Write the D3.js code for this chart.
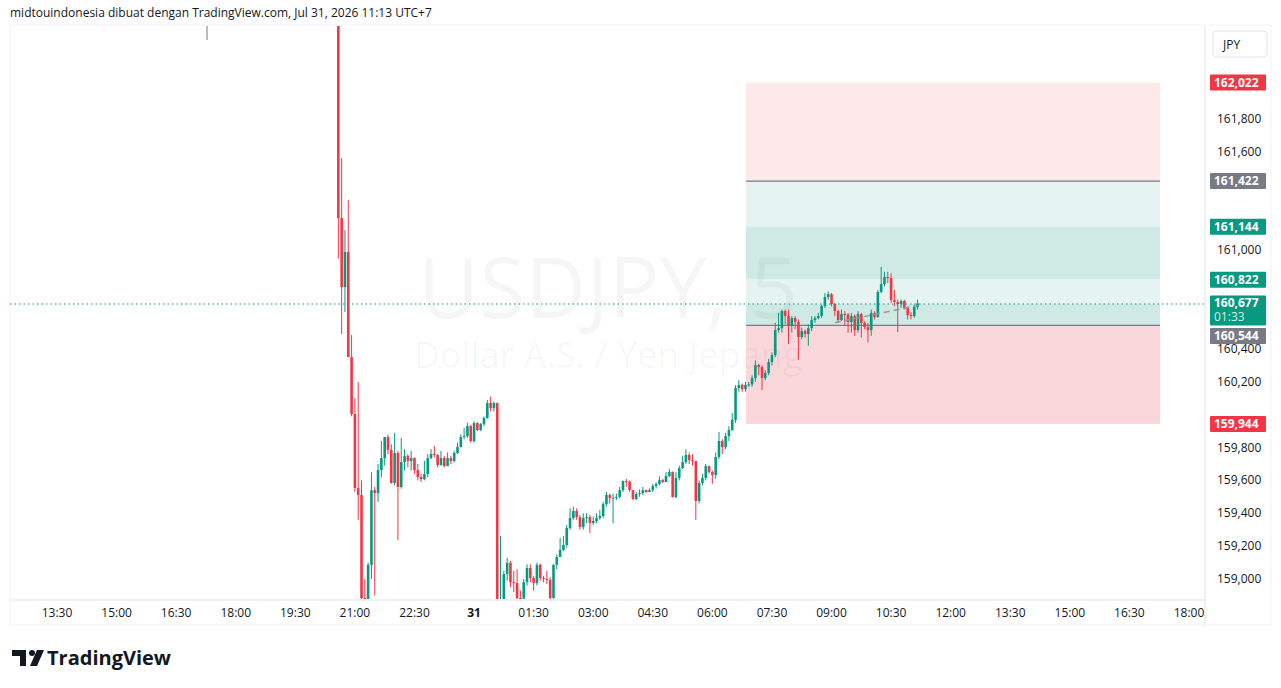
<!DOCTYPE html>
<html><head><meta charset="utf-8">
<script src="https://cdn.jsdelivr.net/npm/d3@7"></script>
<style>body{margin:0;background:#fff;font-family:"Open Sans","DejaVu Sans",sans-serif;}</style>
</head><body>
<svg id="c" width="1281" height="688"></svg>
<script>
// [close, high, low]; open = previous close. 5-minute candles starting 20:35 (Jul 30)
const startOpen = 162500;
const candles = [
[161197,162550,160950],[160777,161562,160491],[160990,161124,160625],[160351,161307,160351],[160004,160485,159990],
[159554,160101,159530],[159511,160199,159359],[158884,159600,158850],[158860,159000,158800],[159086,159100,158800],
[159541,159650,159000],[159523,159560,158900],[159663,159700,159470],[159736,159840,159620],[159864,159864,159690],
[159786,159880,159760],[159584,159820,159580],[159767,159890,159570],[159560,159780,159237],[159712,159860,159550],
[159748,159790,159660],[159718,159760,159680],[159736,159780,159660],[159663,159740,159640],[159621,159700,159600],
[159608,159640,159590],[159639,159720,159600],[159736,159760,159620],[159761,159790,159730],[159755,159810,159740],
[159694,159760,159680],[159736,159780,159690],[159687,159750,159680],[159736,159770,159690],[159718,159750,159700],
[159767,159780,159710],[159803,159830,159760],[159864,159880,159800],[159870,159920,159850],[159931,159950,159860],
[159840,159940,159830],[159949,159960,159830],[159907,159955,159900],[159943,159950,159900],[159980,159990,159930],
[160071,160090,159975],[160040,160110,160020],[160071,160080,160020],[158860,160075,158850],[158870,159262,158850],
[159030,159050,158850],[159098,159130,158990],[158981,159110,158950],[158975,159050,158920],[158884,159060,158860],
[158880,158930,158860],[158981,159000,158860],[159067,159090,158960],[159006,159090,158980],[158975,159020,158930],
[159086,159100,158960],[159006,159095,158990],[159000,159020,158980],[158995,159050,158970],[158884,159010,158860],
[159086,159090,158880],[159134,159150,159060],[159177,159250,159160],[159207,159260,159170],[159310,159330,159190],
[159371,159430,159300],[159414,159440,159360],[159377,159430,159360],[159316,159390,159300],[159371,159400,159300],
[159377,159400,159340],[159341,159390,159280],[159353,159380,159330],[159371,159400,159340],[159383,159420,159360],
[159456,159470,159370],[159511,159530,159440],[159493,159520,159460],[159495,159520,159340],[159500,159520,159480],
[159541,159560,159490],[159596,159600,159530],[159593,159610,159560],[159541,159600,159530],[159487,159495,159480],
[159517,159530,159480],[159523,159545,159500],[159541,159560,159510],[159529,159545,159525],[159541,159550,159530],
[159566,159580,159530],[159578,159590,159550],[159602,159625,159570],[159590,159610,159585],[159627,159650,159590],
[159651,159670,159620],[159499,159655,159495],[159615,159650,159490],[159675,159690,159600],[159712,159750,159670],
[159755,159790,159700],[159724,159770,159700],[159718,159760,159690],[159475,159720,159359],[159584,159600,159460],
[159615,159640,159570],[159687,159700,159600],[159651,159690,159640],[159633,159660,159580],[159742,159770,159610],
[159840,159895,159730],[159803,159850,159760],[159870,159890,159790],[159907,159930,159840],[159968,160010,159900],
[160163,160180,159950],[160181,160210,160140],[160156,160190,160140],[160181,160200,160140],[160185,160200,160170],
[160223,160240,160170],[160302,160330,160200],[160290,160310,160240],[160223,160300,160150],[160254,160270,160210],
[160321,160340,160240],[160363,160380,160300],[160515,160560,160350],[160527,160620,160500],[160631,160640,160500],
[160601,160640,160550],[160540,160640,160430],[160588,160600,160500],[160564,160600,160520],[160473,160580,160333],
[160509,160530,160460],[160491,160520,160470],[160527,160550,160420],[160576,160600,160510],[160588,160600,160560],
[160601,160620,160580],[160662,160670,160590],[160716,160740,160650],[160734,160750,160700],[160674,160740,160660],
[160631,160680,160600],[160576,160640,160560],[160613,160640,160570],[160610,160630,160540],[160564,160620,160500],
[160600,160620,160500],[160515,160610,160480],[160613,160630,160500],[160558,160620,160470],[160534,160570,160520],
[160515,160560,160440],[160619,160640,160480],[160595,160630,160580],[160747,160760,160590],[160795,160900,160740],
[160838,160870,160780],[160832,160870,160800],[160698,160860,160680],[160686,160760,160660],[160674,160700,160503],
[160692,160700,160650],[160650,160700,160640],[160607,160660,160580],[160601,160625,160580],[160656,160670,160590],
[160677,160700,160640]
];
const timeLabels = ["13:30","15:00","16:30","18:00","19:30","21:00","22:30","31","01:30","03:00","04:30","06:00","07:30","09:00","10:30","12:00","13:30","15:00","16:30","18:00"];
const priceTicks = [161800,161600,161400,161200,161000,160800,160600,160400,160200,160000,159800,159600,159400,159200,159000];
const levels = {stop:162022, entry:161422, t1:161144, t2:160822, last:160677, base:160544, low:159944};
const candleStartMin = 425; // minutes after 13:30 (20:35)

const svg = d3.select("#c");
const x = d3.scaleLinear().domain([0,1710]).range([57,1189]);
const y = d3.scaleLinear().domain([159000,161800]).range([579,119]);
const GREEN="#089981", RED="#f23645";
const pf = v => String(v).slice(0,3)+","+String(v).slice(3);

svg.append("text").attr("x",10).attr("y",17).attr("font-size",12).attr("fill","#131722").text("midtouindonesia dibuat dengan TradingView.com, Jul 31, 2026 11:13 UTC+7");
svg.append("rect").attr("x",10).attr("y",25).attr("width",1261).attr("height",600).attr("fill","none").attr("stroke","#f0f3fa");
svg.append("line").attr("x1",207).attr("x2",207).attr("y1",26).attr("y2",40).attr("stroke","#787b86");

// position tool
const bx0=746,bx1=1160;
const band=(a,b,c)=>svg.append("rect").attr("x",bx0).attr("width",bx1-bx0).attr("y",y(a)).attr("height",y(b)-y(a)).attr("fill",c);
band(levels.stop,levels.entry,"#fde9ea");
band(levels.entry,levels.t1,"#e6f4f1");
band(levels.t1,levels.t2,"#cfeae4");
band(levels.t2,levels.last,"#e6f4f1");
band(levels.last,levels.base,"#cfeae4");
band(levels.base,levels.low,"#fad7da");

// watermark (drawn over bands, very faint)
svg.append("text").attr("x",608).attr("y",318).attr("text-anchor","middle").attr("font-size",84).attr("fill","#000").attr("fill-opacity",0.035).text("USDJPY, 5");
svg.append("text").attr("x",608).attr("y",368).attr("text-anchor","middle").attr("font-size",36).attr("fill","#000").attr("fill-opacity",0.035).text("Dollar A.S. / Yen Jepang");

[levels.entry,levels.base].forEach(v=>svg.append("line").attr("x1",bx0).attr("x2",bx1).attr("y1",y(v)).attr("y2",y(v)).attr("stroke","#787b86").attr("stroke-width",1.2));

// candles
svg.append("clipPath").attr("id","cp").append("rect").attr("x",10).attr("y",26).attr("width",1195).attr("height",573);
const g = svg.append("g").attr("clip-path","url(#cp)");
const data = candles.map((d,i)=>({o:i?candles[i-1][0]:startOpen,c:d[0],h:d[1],l:d[2],t:candleStartMin+i*5}));
data.forEach(d=>{
  const col = d.c>=d.o?GREEN:RED, cx=x(d.t);
  g.append("line").attr("x1",cx).attr("x2",cx).attr("y1",y(d.h)).attr("y2",y(d.l)).attr("stroke",col).attr("stroke-width",1);
  const top=y(Math.max(d.o,d.c)), bot=y(Math.min(d.o,d.c));
  g.append("rect").attr("x",cx-1.3).attr("width",2.6).attr("y",top).attr("height",Math.max(1,bot-top)).attr("fill",col);
});
svg.append("line").attr("x1",x(candleStartMin+150*5)).attr("y1",y(160560)).attr("x2",x(candleStartMin+175*5)).attr("y2",y(160665)).attr("stroke","#9598a1").attr("stroke-dasharray","6,4").attr("stroke-width",1.5);
svg.append("line").attr("x1",10).attr("x2",1207).attr("y1",y(levels.last)+0.5).attr("y2",y(levels.last)+0.5).attr("stroke",GREEN).attr("stroke-width",1.2).attr("stroke-dasharray","1.5,3");

// axes
svg.append("line").attr("x1",1205).attr("x2",1205).attr("y1",26).attr("y2",625).attr("stroke","#e0e3eb");
svg.append("line").attr("x1",10).attr("x2",1205).attr("y1",600).attr("y2",600).attr("stroke","#e0e3eb");
const badgeY = [y(levels.stop),y(levels.entry),y(levels.t1),y(levels.t2),y(levels.last),y(levels.last)+14,336,y(levels.low)];
const visTicks = priceTicks.filter(p=>badgeY.every(b=>Math.abs(b-y(p))>12));
svg.selectAll(".pt").data(visTicks).enter().append("text").attr("x",1217).attr("y",d=>y(d)+4).attr("font-size",12).attr("fill","#131722").text(pf);
svg.selectAll(".tt").data(timeLabels).enter().append("text").attr("x",(d,i)=>x(i*90)).attr("y",617).attr("text-anchor","middle").attr("font-size",12).attr("fill","#131722").attr("font-weight",d=>d==="31"?"bold":null).text(d=>d);

const badge=(v,col,cy,h,sub)=>{
  svg.append("rect").attr("x",1210).attr("y",cy-8).attr("width",56).attr("height",h||16).attr("fill",col).attr("rx",1);
  svg.append("text").attr("x",1214).attr("y",cy+4).attr("font-size",12).attr("font-weight","bold").attr("fill","#fff").text(pf(v));
  if(sub) svg.append("text").attr("x",1214).attr("y",cy+18).attr("font-size",12).attr("fill","#d1f0e8").text(sub);
};
badge(levels.stop,RED,y(levels.stop));
badge(levels.entry,"#787b86",y(levels.entry));
badge(levels.t1,GREEN,y(levels.t1));
badge(levels.t2,GREEN,y(levels.t2));
badge(levels.last,GREEN,y(levels.last),30,"01:33");
badge(levels.base,"#787b86",336);
badge(levels.low,RED,y(levels.low));

svg.append("rect").attr("x",1213).attr("y",31).attr("width",54).attr("height",26).attr("rx",4).attr("fill","#fff").attr("stroke","#e0e3eb");
svg.append("text").attr("x",1223).attr("y",49).attr("font-size",12).attr("fill","#131722").text("JPY");

svg.append("path").attr("d","M12 650 h14 v16 h-6 v-10 h-8 z").attr("fill","#131722");
svg.append("circle").attr("cx",32).attr("cy",653).attr("r",3).attr("fill","#131722");
svg.append("path").attr("d","M37 650 h7 l-7 16 h-7 z").attr("fill","#131722");
svg.append("text").attr("x",47).attr("y",665).attr("font-size",20).attr("font-weight","bold").attr("fill","#131722").text("TradingView");
</script>
</body></html>
